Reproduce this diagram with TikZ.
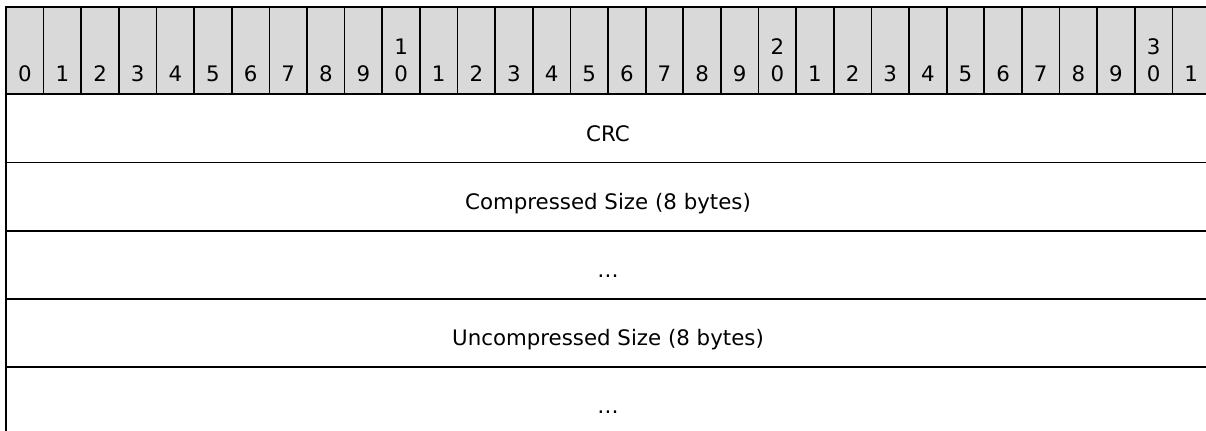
\documentclass[tikz,border=0pt]{standalone}
\usepackage{fontspec}
\setmainfont{DejaVu Sans}
\definecolor{hdrgray}{HTML}{D9D9D9}
\begin{document}
\begin{tikzpicture}[x=0.75pt,y=-0.75pt,line width=1.3pt,
  lbl/.style={anchor=base,inner sep=0pt,font=\fontsize{16}{19}\selectfont},
  rule/.style={draw=black,line width=1.3pt}]
\useasboundingbox (0,0) rectangle (1206,430);
\clip (0,0) rectangle (1206,430);
% header band
\fill[hdrgray] (6,7.3) rectangle (1210,94.3);
\foreach \i in {1,...,31} \draw[rule] (6+\i*37.625,7.3) -- (6+\i*37.625,94.3);
% outer frame
\draw[rule] (1210,7.3) -- (6,7.3) -- (6,440);
% row rules
\foreach \y in {94.3,162.5,230.7,298.9,367.1} \draw[rule] (6,\y) -- (1210,\y);
% bit numbers
\foreach \i in {0,...,31} {
  \pgfmathtruncatemacro\u{mod(\i,10)}
  \node[lbl] (h\i) at (6+\i*37.625+18.81,81) {\u};
}
\node[lbl] (t10) at (6+10*37.625+18.81,54) {1};
\node[lbl] (t20) at (6+20*37.625+18.81,54) {2};
\node[lbl] (t30) at (6+30*37.625+18.81,54) {3};
% field labels
\node[lbl] (crc) at (608,141) {CRC};
\node[lbl] (csize) at (608,209.2) {Compressed Size (8 bytes)};
\node[lbl] (dots1) at (608,277.4) {…};
\node[lbl] (usize) at (608,345.6) {Uncompressed Size (8 bytes)};
\node[lbl] (dots2) at (608,413.8) {…};
\end{tikzpicture}
\end{document}
